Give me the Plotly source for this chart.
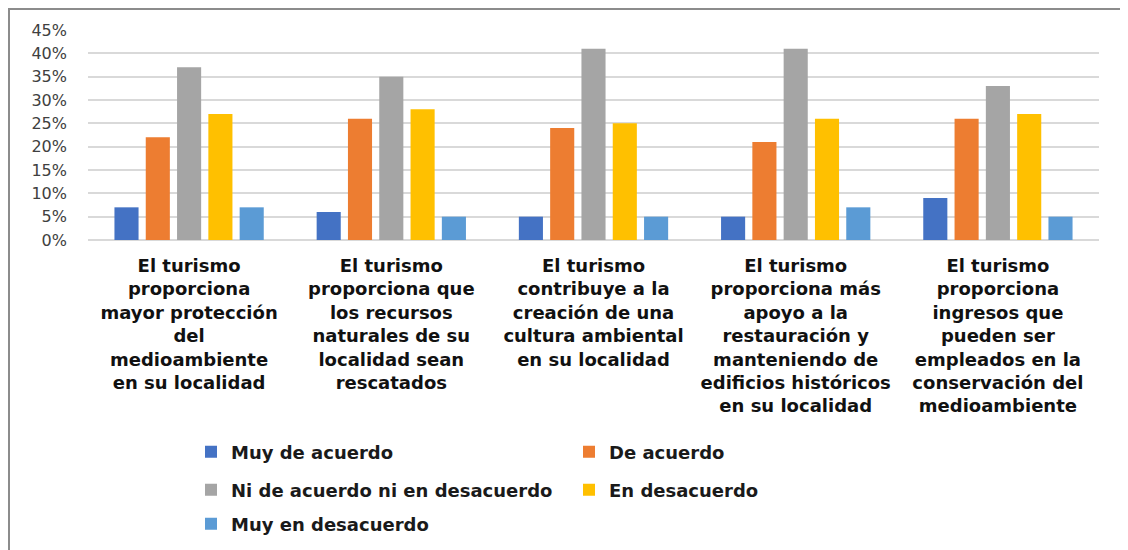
import plotly.graph_objects as go

categories = [
    "El turismo<br>proporciona<br>mayor protección<br>del<br>medioambiente<br>en su localidad",
    "El turismo<br>proporciona que<br>los recursos<br>naturales de su<br>localidad sean<br>rescatados",
    "El turismo<br>contribuye a la<br>creación de una<br>cultura ambiental<br>en su localidad",
    "El turismo<br>proporciona más<br>apoyo a la<br>restauración y<br>manteniendo de<br>edificios históricos<br>en su localidad",
    "El turismo<br>proporciona<br>ingresos que<br>pueden ser<br>empleados en la<br>conservación del<br>medioambiente",
]
series_names = ["Muy de acuerdo", "De acuerdo", "Ni de acuerdo ni en desacuerdo",
                "En desacuerdo", "Muy en desacuerdo"]
muy_de_acuerdo = [0.07, 0.06, 0.05, 0.05, 0.09]
de_acuerdo = [0.22, 0.26, 0.24, 0.21, 0.26]
ni_ni = [0.37, 0.35, 0.41, 0.41, 0.33]
en_desacuerdo = [0.27, 0.28, 0.25, 0.26, 0.27]
muy_en_desacuerdo = [0.07, 0.05, 0.05, 0.07, 0.05]
series_values = [muy_de_acuerdo, de_acuerdo, ni_ni, en_desacuerdo, muy_en_desacuerdo]
colors = ["#4472C4", "#ED7D31", "#A5A5A5", "#FFC000", "#5B9BD5"]
legend_ids = ["legend", "legend", "legend2", "legend2", "legend3"]

FONT = "DejaVu Sans"

fig = go.Figure()
for name, vals, col, lg in zip(series_names, series_values, colors, legend_ids):
    fig.add_trace(go.Bar(
        x=categories, y=vals, name=name, legend=lg,
        marker=dict(color=col, line=dict(width=0)),
    ))

# page body has an 8px default margin; figure coordinates below are page coords - 8
L, R, T, B = 80, 29, 22, 310
W, H = 1120, 542
pw, ph = W - L - R, H - T - B

def px2x(px):
    return (px - L) / pw

def py2y(py):
    return (H - B - py) / ph

legend_common = dict(
    orientation="h", xref="paper", yref="paper", xanchor="left", yanchor="middle",
    entrywidthmode="pixels", entrywidth=333,
    font=dict(family=FONT, size=18, color="#1a1a1a", weight="bold"),
    bgcolor="rgba(0,0,0,0)", itemclick=False, itemdoubleclick=False,
)

fig.update_layout(
    width=W, height=H,
    margin=dict(l=L, r=R, t=T, b=B, autoexpand=False),
    paper_bgcolor="white", plot_bgcolor="white",
    barmode="group", bargap=0.226, bargroupgap=0.23,
    font=dict(family=FONT, color="#404040"),
    legend=dict(**legend_common, x=px2x(183), y=py2y(444)),
    legend2=dict(**legend_common, x=px2x(183), y=py2y(482)),
    legend3=dict(**legend_common, x=px2x(183), y=py2y(516)),
    xaxis=dict(
        showgrid=False, showline=False, ticks="",
        tickfont=dict(family=FONT, size=18, color="#111111", weight="bold"),
        ticklabelstandoff=13, tickangle=0,
    ),
    yaxis=dict(
        range=[0, 0.45], dtick=0.05, tickformat=".0%",
        showgrid=True, gridcolor="#D9D9D9", gridwidth=2,
        zeroline=True, zerolinecolor="#D9D9D9", zerolinewidth=2,
        showline=False, ticks="",
        tickfont=dict(family=FONT, size=16, color="#404040"),
        ticklabelstandoff=20,
    ),
    shapes=[
        dict(type="line", xref="paper", yref="paper",
             x0=px2x(1), x1=px2x(1), y0=py2y(0), y1=py2y(H),
             line=dict(color="#8c8c8c", width=2)),
        dict(type="line", xref="paper", yref="paper",
             x0=px2x(0), x1=px2x(W), y0=py2y(1), y1=py2y(1),
             line=dict(color="#8c8c8c", width=2)),
    ],
)

fig.write_html("out.html")
